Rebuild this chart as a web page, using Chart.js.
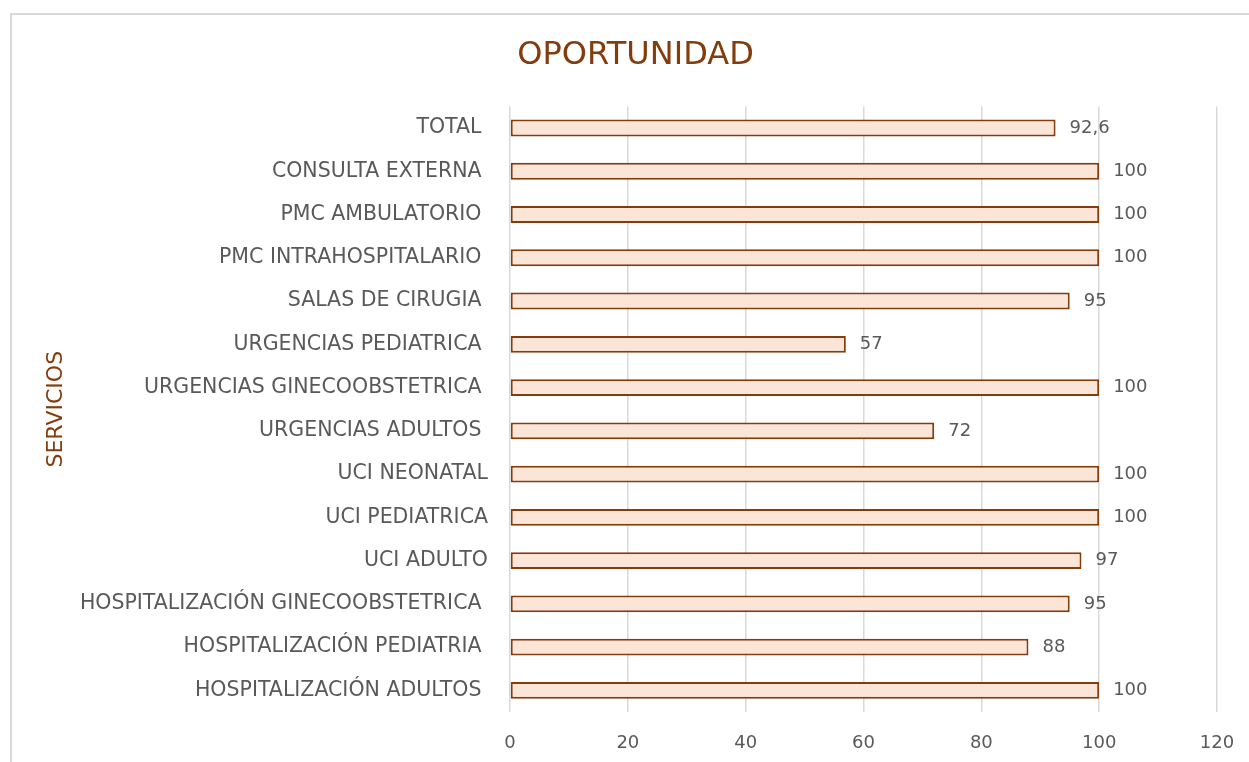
<!DOCTYPE html>
<html>
<head>
<meta charset="utf-8">
<script src="https://cdn.jsdelivr.net/npm/chart.js@4"></script>
<style>
  body { margin: 0; background: #fff; overflow: hidden; }
  #frame { position: absolute; left: 10px; top: 13px; width: 1400px; height: 900px;
           border-top: 2px solid #d9d9d9; border-left: 2px solid #d9d9d9; }
  #wrap { position: absolute; left: 0; top: 0; width: 1271px; height: 762px; }
</style>
</head>
<body>
<div id="frame"></div>
<div id="wrap"><canvas id="chart" width="1271" height="762"></canvas></div>
<script>
// categories top to bottom (trailing spaces as in the original sheet)
const servicios = [
  'TOTAL ',
  'CONSULTA EXTERNA ',
  'PMC AMBULATORIO ',
  'PMC INTRAHOSPITALARIO ',
  'SALAS DE CIRUGIA ',
  'URGENCIAS PEDIATRICA ',
  'URGENCIAS GINECOOBSTETRICA ',
  'URGENCIAS ADULTOS ',
  'UCI NEONATAL',
  'UCI PEDIATRICA',
  'UCI ADULTO',
  'HOSPITALIZACIÓN GINECOOBSTETRICA ',
  'HOSPITALIZACIÓN PEDIATRIA ',
  'HOSPITALIZACIÓN ADULTOS '
];
const oportunidad = [92.6, 100, 100, 100, 95, 57, 100, 72, 100, 100, 97, 95, 88, 100];
const xTicks = [0, 20, 40, 60, 80, 100, 120];

const FONT = 'DejaVu Sans';
const BROWN = '#843C0C';
const GRAY = '#595959';

// value labels at the end of each bar
const barLabels = {
  id: 'barLabels',
  afterDatasetsDraw(chart) {
    const ctx = chart.ctx;
    const meta = chart.getDatasetMeta(0);
    ctx.save();
    ctx.font = '18px "' + FONT + '"';
    ctx.fillStyle = GRAY;
    ctx.textAlign = 'left';
    ctx.textBaseline = 'middle';
    meta.data.forEach((bar, i) => {
      const txt = String(oportunidad[i]).replace('.', ',');
      ctx.fillText(txt, bar.x + 14, bar.y);
    });
    ctx.restore();
  }
};

new Chart(document.getElementById('chart'), {
  type: 'bar',
  data: {
    labels: servicios,
    datasets: [{
      data: oportunidad,
      backgroundColor: '#FBE5D6',
      borderColor: BROWN,
      borderWidth: 2,
      borderSkipped: false,
      barPercentage: 0.39,
      categoryPercentage: 1
    }]
  },
  options: {
    indexAxis: 'y',
    responsive: false,
    animation: false,
    devicePixelRatio: 1,
    layout: { padding: 0 },
    plugins: {
      legend: { display: false },
      tooltip: { enabled: false },
      title: {
        display: true,
        text: 'OPORTUNIDAD',
        color: BROWN,
        font: { family: FONT, size: 32, weight: 'normal' },
        padding: { top: 36, bottom: 32 }
      }
    },
    scales: {
      x: {
        min: 0,
        max: 120,
        afterFit: s => { s.height = 50; },
        afterBuildTicks: s => { s.ticks = xTicks.map(v => ({ value: v })); },
        ticks: { color: GRAY, font: { family: FONT, size: 18 }, padding: 21 },
        grid: { color: '#d9d9d9', lineWidth: 1.5, drawTicks: false },
        border: { display: false }
      },
      y: {
        afterFit: s => { s.width = 510; },
        ticks: { color: GRAY, font: { family: FONT, size: 20.5 }, padding: 22 },
        grid: { display: false, drawTicks: false },
        border: { display: false },
        title: {
          display: true,
          text: 'SERVICIOS',
          color: BROWN,
          font: { family: FONT, size: 22, weight: 'normal' },
          padding: { top: 43, bottom: 0 }
        }
      },
      // empty right-hand spacer so the title centres like the original frame
      yr: {
        type: 'category',
        position: 'right',
        afterFit: s => { s.width = 54; },
        ticks: { display: false },
        grid: { display: false, drawTicks: false },
        border: { display: false }
      }
    }
  },
  plugins: [barLabels]
});
</script>
</body>
</html>
